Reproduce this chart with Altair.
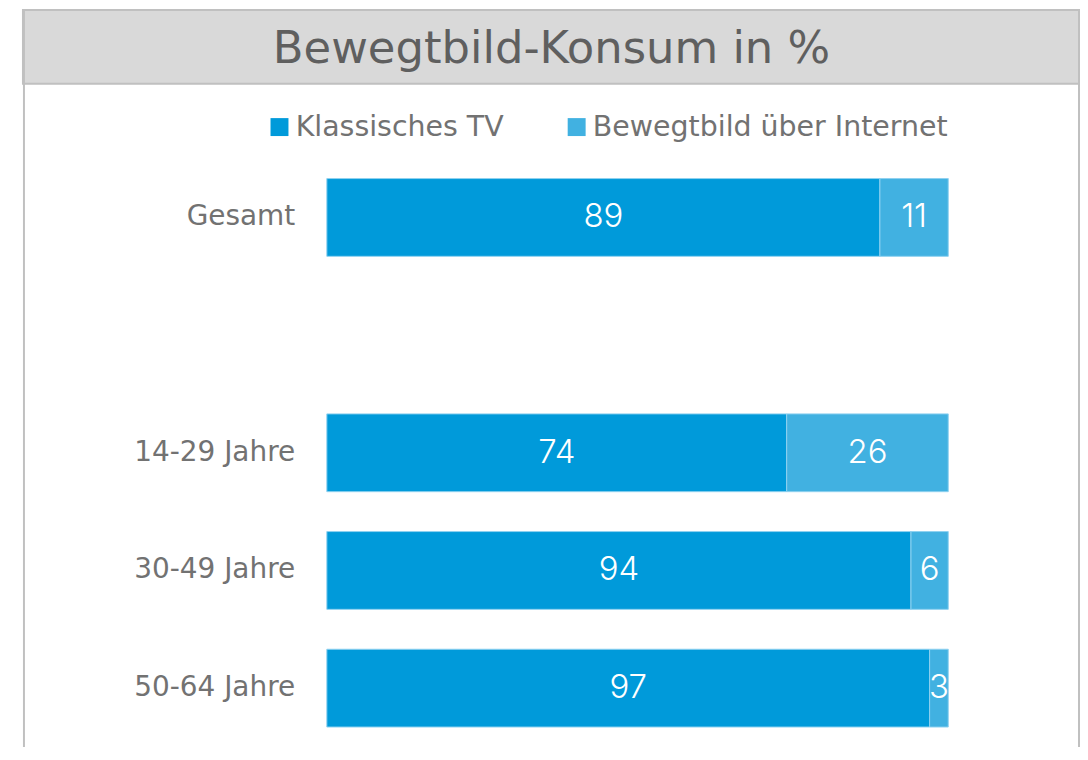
import altair as alt
import pandas as pd

TITLE = "Bewegtbild-Konsum in %"
categories = ["Gesamt", " ", "14-29 Jahre", "30-49 Jahre", "50-64 Jahre"]
groups = ["Gesamt", "14-29 Jahre", "30-49 Jahre", "50-64 Jahre"]
tv = [89, 74, 94, 97]
internet = [11, 26, 6, 3]
series = ["Klassisches TV", "Bewegtbild über Internet"]
colors = ["#009ADA", "#41B1E1"]

FONT = "DejaVu Sans"
VFONT = "Inter"
W, H = 1060, 740

rows = []
for g, a, b in zip(groups, tv, internet):
    rows.append({"group": g, "series": series[0], "value": a, "order": 0})
    rows.append({"group": g, "series": series[1], "value": b, "order": 1})
df = pd.DataFrame(rows)

# band layout: step 118, bar 78, first band top at 170
n = len(categories)
step = 118.0
p_inner = 40.0 / step
p_outer = (H / step - n + p_inner) / 2
align = 170.0 / (H - step * (n - p_inner))

xscale = alt.Scale(domain=[-48.9, 121.2], nice=False, zero=False)
yscale = alt.Scale(domain=categories, paddingInner=p_inner, paddingOuter=p_outer, align=align)

base = alt.Chart(df)

title_bg = alt.Chart(pd.DataFrame({"t": [TITLE]})).mark_rect(
    color="#d9d9d9", stroke="#c0c0c0", strokeWidth=2
).encode(x=alt.value(0), x2=alt.value(W), y=alt.value(1), y2=alt.value(75))

title_txt = alt.Chart(pd.DataFrame({"t": [TITLE]})).mark_text(
    font=FONT, fontSize=45, color="#5f5f5f", baseline="alphabetic", align="center"
).encode(x=alt.value(W / 2), y=alt.value(54), text="t:N")

frame = alt.Chart(pd.DataFrame({"t": [0]})).mark_rule(color="#c0c0c0", strokeWidth=2)
left_line = frame.encode(x=alt.value(1), y=alt.value(0), y2=alt.value(H))
right_line = frame.encode(x=alt.value(W - 1), y=alt.value(0), y2=alt.value(H))

bars = base.mark_bar(stroke="#8fd1f0", strokeWidth=1).encode(
    y=alt.Y("group:N", scale=yscale, axis=None),
    x=alt.X("value:Q", stack="zero", scale=xscale, axis=None),
    color=alt.Color(
        "series:N",
        scale=alt.Scale(domain=series, range=colors),
        legend=alt.Legend(
            title=None, orient="none", legendX=243, legendY=104,
            direction="horizontal", symbolType="square", symbolSize=324,
            symbolStrokeWidth=0, labelFontSize=28.5, labelFont=FONT,
            labelColor="#727272", labelOffset=2,
            columnPadding=58, symbolOpacity=1, labelLimit=1000,
        ),
    ),
    order=alt.Order("order:Q"),
)

values = base.transform_stack(
    stack="value", groupby=["group"], as_=["v0", "v1"], sort=[alt.SortField("order")]
).transform_calculate(mid="(datum.v0 + datum.v1) / 2").mark_text(
    font=VFONT, fontSize=33, fontWeight=300, color="white", align="center", baseline="middle"
).encode(
    y=alt.Y("group:N", scale=yscale, axis=None),
    x=alt.X("mid:Q", scale=xscale, axis=None),
    text="value:Q",
)

labels = alt.Chart(pd.DataFrame({"group": groups})).mark_text(
    font=FONT, fontSize=28, color="#727272", align="right", baseline="middle"
).encode(
    y=alt.Y("group:N", scale=yscale, axis=None),
    x=alt.value(273),
    text="group:N",
)

chart = alt.layer(title_bg, left_line, right_line, title_txt, bars, values, labels).properties(
    width=W, height=H,
    autosize=alt.AutoSizeParams(type="none"),
    padding={"left": 15, "top": 0, "right": 0, "bottom": 0},
    view=alt.ViewBackground(stroke="transparent", strokeWidth=0, strokeOpacity=0),
).configure_view(stroke="transparent", strokeWidth=0, strokeOpacity=0).configure(background="white")

chart.save("out.html", embed_options={"renderer": "svg", "actions": False})
